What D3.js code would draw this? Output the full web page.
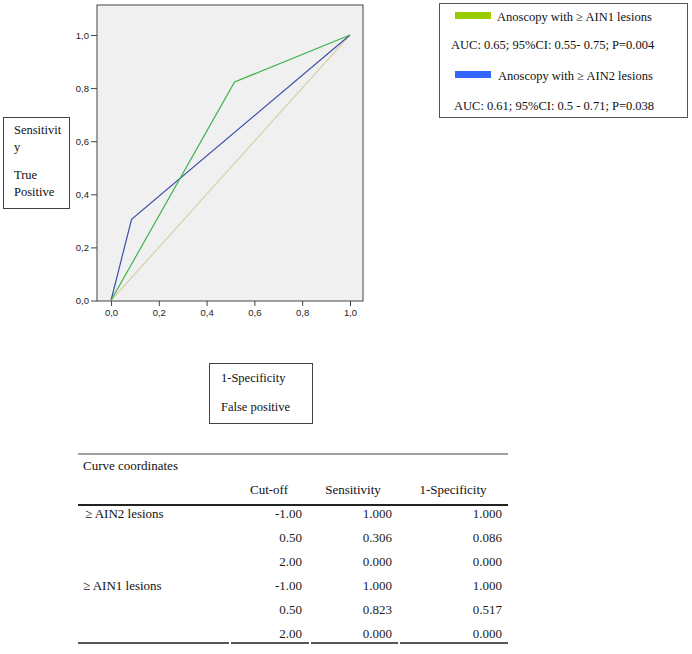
<!DOCTYPE html>
<html><head><meta charset="utf-8">
<script src="https://cdn.jsdelivr.net/npm/d3@7"></script>
<style>
body{margin:0;background:#fff;}
</style></head>
<body><svg id="c" width="692" height="654"></svg>
<script>
// ROC curve points (1-Specificity, Sensitivity)
const ain1FPR = [0, 0.517, 1];
const ain1TPR = [0, 0.823, 1];
const ain2FPR = [0, 0.086, 1];
const ain2TPR = [0, 0.306, 1];
const refLine = [0, 1];
const xTicks = [0, 0.2, 0.4, 0.6, 0.8, 1.0];
const yTicks = [0, 0.2, 0.4, 0.6, 0.8, 1.0];
// legend
const legendLabels = ["Anoscopy with \u2265 AIN1 lesions", "Anoscopy with \u2265 AIN2 lesions"];
const legendStats = ["AUC: 0.65; 95%CI: 0.55- 0.75; P=0.004", "AUC: 0.61; 95%CI: 0.5 - 0.71; P=0.038"];
// table
const tableTitle = "Curve coordinates";
const tableHeaders = ["Cut-off", "Sensitivity", "1-Specificity"];
const tableGroups = ["\u2265 AIN2 lesions", "", "", "\u2265 AIN1 lesions", "", ""];
const cutoffs = ["-1.00", "0.50", "2.00", "-1.00", "0.50", "2.00"];
const sensitivities = ["1.000", "0.306", "0.000", "1.000", "0.823", "0.000"];
const specificities = ["1.000", "0.086", "0.000", "1.000", "0.517", "0.000"];

const SERIF = "'Liberation Serif', 'Times New Roman', 'DejaVu Serif', serif";
const svg = d3.select("#c");
const T = (x0, y0, t, size = 12.5) => svg.append("text").attr("x", x0).attr("y", y0)
  .attr("font-family", SERIF).attr("font-size", size).attr("fill", "#111").text(t);

const x = d3.scaleLinear().domain([0, 1]).range([111, 350]);
const y = d3.scaleLinear().domain([0, 1]).range([300.5, 35]);
const fL = 97, fR = 363, fT = 5, fB = 301;

svg.append("rect").attr("x", fL).attr("y", fT).attr("width", fR - fL).attr("height", fB - fT)
  .attr("fill", "#f0f0f0").attr("stroke", "#444").attr("stroke-width", 1);

const fmt = d => d3.format(".1f")(d).replace(".", ",");
const xAxis = svg.append("g").attr("transform", `translate(0,${fB})`)
  .call(d3.axisBottom(x).tickValues(xTicks).tickSize(5).tickPadding(3).tickFormat(fmt));
const yAxis = svg.append("g").attr("transform", `translate(${fL},0)`)
  .call(d3.axisLeft(y).tickValues(yTicks).tickSize(6).tickPadding(2).tickFormat(fmt));
[xAxis, yAxis].forEach(g => {
  g.select(".domain").remove();
  g.selectAll("line").attr("stroke", "#444");
  g.selectAll("text").attr("font-family", "'Liberation Sans', Arial, sans-serif").attr("font-size", 9.5).attr("fill", "#222");
});

const line = d3.line().x(d => x(d[0])).y(d => y(d[1]));
svg.append("path").datum(d3.zip(refLine, refLine)).attr("d", line).attr("fill", "none").attr("stroke", "#d8d0a8").attr("stroke-width", 1.2);
svg.append("path").datum(d3.zip(ain2FPR, ain2TPR)).attr("d", line).attr("fill", "none").attr("stroke", "#3d4fa6").attr("stroke-width", 1.2);
svg.append("path").datum(d3.zip(ain1FPR, ain1TPR)).attr("d", line).attr("fill", "none").attr("stroke", "#3cb34a").attr("stroke-width", 1.2);

// Y label box
svg.append("rect").attr("x", 3.5).attr("y", 117.5).attr("width", 66).attr("height", 91).attr("fill", "#fff").attr("stroke", "#444");
[["Sensitivit", 134], ["y", 151], ["True", 179], ["Positive", 196]].forEach(([t, yy]) => T(14, yy, t, 12.5));

// X label box
svg.append("rect").attr("x", 209.5).attr("y", 363.5).attr("width", 103).attr("height", 60).attr("fill", "#fff").attr("stroke", "#444");
T(221, 382, "1-Specificity", 12.5);
T(221, 411, "False positive", 12.5);

// Legend
svg.append("rect").attr("x", 439.5).attr("y", 3.5).attr("width", 248).attr("height", 114).attr("fill", "#fff").attr("stroke", "#555");
const swatchColors = ["#99cc00", "#3366ff"];
[0, 1].forEach(i => {
  const top = i === 0 ? 12 : 71;
  svg.append("rect").attr("x", 455).attr("y", top).attr("width", 36).attr("height", 7).attr("fill", swatchColors[i]);
  T(i === 0 ? 497 : 498, top + 9, legendLabels[i], 12.5);
  T(i === 0 ? 451 : 454, i === 0 ? 49 : 110, legendStats[i], 12.5);
});

// Table
const tL = 78, tR = 508;
svg.append("line").attr("x1", tL).attr("x2", tR).attr("y1", 454).attr("y2", 454).attr("stroke", "#444").attr("stroke-width", 1.2);
T(83, 470, tableTitle, 13);
const colRight = [302, 392, 502];
const headerX = [269, 353, 453];
tableHeaders.forEach((h, i) => T(headerX[i], 494, h, 13).attr("text-anchor", "middle"));
svg.append("line").attr("x1", tL).attr("x2", tR).attr("y1", 505).attr("y2", 505).attr("stroke", "#222").attr("stroke-width", 1.8);
const rowY = d3.scaleLinear().domain([0, 5]).range([518, 638]);
cutoffs.forEach((c, i) => {
  const yy = rowY(i);
  if (tableGroups[i]) T(i === 0 ? 85 : 83, yy, tableGroups[i], 13);
  [c, sensitivities[i], specificities[i]].forEach((v, j) =>
    T(colRight[j], yy, v, 13).attr("text-anchor", "end").attr("fill", "#222"));
});
[[78, 229], [231, 309], [311, 398], [400, 508]].forEach(([a, b]) =>
  svg.append("line").attr("x1", a).attr("x2", b).attr("y1", 643).attr("y2", 643).attr("stroke", "#555").attr("stroke-width", 1.8));
</script></body></html>
